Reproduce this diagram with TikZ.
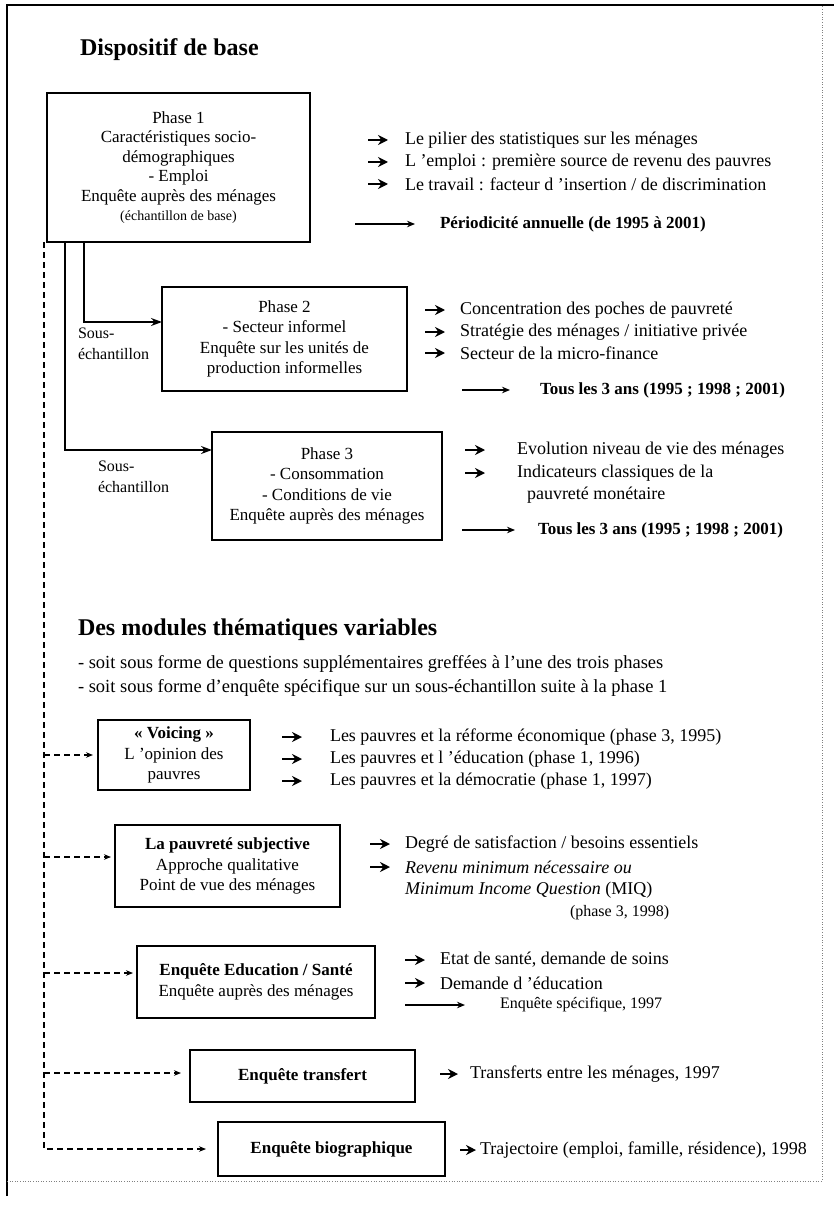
\documentclass[tikz,border=0pt]{standalone}
\usepackage{fontspec}
\setmainfont{Liberation Serif}
\usetikzlibrary{positioning,arrows.meta,calc}

\begin{document}
\begin{tikzpicture}[
  x=1pt, y=-1pt,
  every node/.style={inner sep=0pt, outer sep=0pt},
  phase/.style={draw, line width=1.1pt, align=center,
                font=\fontsize{17}{20.5}\selectfont},
  sectitle/.style={anchor=west, font=\fontsize{24}{28}\selectfont\bfseries},
  item/.style={anchor=west, font=\fontsize{18}{21.5}\selectfont},
  period/.style={anchor=west, font=\fontsize{17}{20}\selectfont\bfseries},
  subs/.style={anchor=north west, align=left, font=\fontsize{16}{21}\selectfont},
  bul/.style={-{Stealth[length=10pt,width=10pt]}, line width=2.2pt},
  longarr/.style={-{Stealth[length=8pt,width=6.5pt]}, line width=1.3pt},
  link/.style={-{Stealth[length=11pt,width=8pt]}, line width=1.4pt},
  dlink/.style={-{Stealth[length=7pt,width=5.5pt]}, line width=1.1pt,
                dash pattern=on 6pt off 4pt}
]
  \useasboundingbox (0,0) rectangle (834,1206);

  % page frame
  \draw[line width=1.3pt] (7,1196) -- (7,5) -- (834,5);
  \draw[gray, dotted, line width=0.6pt] (7,1181) -- (822,1181) -- (822,5);

  % Dispositif de base
  \node[sectitle] (base) at (80,50) {Dispositif de base};

  \node[phase, minimum width=263pt, minimum height=149pt,
        font=\fontsize{17}{19.5}\selectfont] (ph1) at (178.5,167.5)
    {Phase 1\\Caractéristiques socio-\\démographiques\\- Emploi\\Enquête auprès des ménages\\
     {\fontsize{14}{18}\selectfont (échantillon de base)}};
  \node[item] (p11) at (405,140) {Le pilier des statistiques sur les ménages};
  \node[item] (p12) at (405,162) {L ’emploi : première source de revenu des pauvres};
  \node[item] (p13) at (405,184) {Le travail : facteur d ’insertion / de discrimination};
  \node[period] (per1) at (440,224) {Périodicité annuelle (de 1995 à 2001)};
  \draw[bul] ([xshift=-37pt]p11.west) -- ([xshift=-17pt]p11.west);
  \draw[bul] ([xshift=-37pt]p12.west) -- ([xshift=-17pt]p12.west);
  \draw[bul] ([xshift=-37pt]p13.west) -- ([xshift=-17pt]p13.west);
  \draw[longarr] ([xshift=-85pt]per1.west) -- ([xshift=-25pt]per1.west);

  \node[phase, minimum width=245pt, minimum height=104pt] (ph2) at (284.5,339)
    {Phase 2\\- Secteur informel\\Enquête sur les unités de\\production informelles};
  \node[subs] (sub1) at (78,328) {Sous-\\échantillon};
  \node[item] (p21) at (460,310) {Concentration des poches de pauvreté};
  \node[item] (p22) at (460,332) {Stratégie des ménages / initiative privée};
  \node[item] (p23) at (460,353) {Secteur de la micro-finance};
  \node[period] (per2) at (540,390) {Tous les 3 ans (1995 ; 1998 ; 2001)};
  \draw[bul] ([xshift=-35pt]p21.west) -- ([xshift=-15pt]p21.west);
  \draw[bul] ([xshift=-35pt]p22.west) -- ([xshift=-15pt]p22.west);
  \draw[bul] ([xshift=-35pt]p23.west) -- ([xshift=-15pt]p23.west);
  \draw[longarr] ([xshift=-78pt]per2.west) -- ([xshift=-30pt]per2.west);

  \node[phase, minimum width=230pt, minimum height=108pt] (ph3) at (327,486)
    {Phase 3\\- Consommation\\- Conditions de vie\\Enquête auprès des ménages};
  \node[subs] (sub2) at (98,461) {Sous-\\échantillon};
  \node[item] (p31) at (517,450) {Evolution niveau de vie des ménages};
  \node[item] (p32) at (517,473) {Indicateurs classiques de la};
  \node[item] (p33) at (527,495) {pauvreté monétaire};
  \node[period] (per3) at (538,530) {Tous les 3 ans (1995 ; 1998 ; 2001)};
  \draw[bul] ([xshift=-52pt]p31.west) -- ([xshift=-32pt]p31.west);
  \draw[bul] ([xshift=-52pt]p32.west) -- ([xshift=-32pt]p32.west);
  \draw[longarr] ([xshift=-76pt]per3.west) -- ([xshift=-23pt]per3.west);

  % sub-samples
  \draw[link] ([xshift=37pt]ph1.south west) |- ($(ph2.north west)+(0,35)$);
  \draw[link] ([xshift=18pt]ph1.south west) |- ($(ph3.north west)+(0,18)$);

  % Des modules thematiques variables
  \node[sectitle] (mod) at (78,630) {Des modules thématiques variables};
  \node[anchor=west, font=\fontsize{18.5}{21}\selectfont] (soit1) at (78,664)
    {- soit sous forme de questions supplémentaires greffées à l’une des trois phases};
  \node[anchor=west, font=\fontsize{18.5}{21}\selectfont] (soit2) at (78,688)
    {- soit sous forme d’enquête spécifique sur un sous-échantillon suite à la phase 1};

  \node[phase, minimum width=152pt, minimum height=70pt] (voi) at (174,755)
    {{\bfseries « Voicing »}\\L ’opinion des\\pauvres};
  \node[item] (p41) at (330,737) {Les pauvres et la réforme économique (phase 3, 1995)};
  \node[item] (p42) at (330,759) {Les pauvres et l ’éducation (phase 1, 1996)};
  \node[item] (p43) at (330,781) {Les pauvres et la démocratie (phase 1, 1997)};
  \draw[bul] ([xshift=-48pt]p41.west) -- ([xshift=-28pt]p41.west);
  \draw[bul] ([xshift=-48pt]p42.west) -- ([xshift=-28pt]p42.west);
  \draw[bul] ([xshift=-48pt]p43.west) -- ([xshift=-28pt]p43.west);

  \node[phase, minimum width=225pt, minimum height=82pt] (subj) at (227.5,866)
    {{\bfseries La pauvreté subjective}\\Approche qualitative\\Point de vue des ménages};
  \node[item] (p51) at (405,844) {Degré de satisfaction / besoins essentiels};
  \node[item] (p52) at (405,867) {\itshape Revenu minimum nécessaire ou};
  \node[item] (p53) at (405,890) {\textit{Minimum Income Question} (MIQ)};
  \node[anchor=west, font=\fontsize{16}{19}\selectfont] (p54) at (570,913) {(phase 3, 1998)};
  \draw[bul] ([xshift=-35pt]p51.west) -- ([xshift=-15pt]p51.west);
  \draw[bul] ([xshift=-35pt]p52.west) -- ([xshift=-15pt]p52.west);

  \node[phase, minimum width=238pt, minimum height=72pt] (edu) at (256,982)
    {{\bfseries Enquête Education / Santé}\\Enquête auprès des ménages};
  \node[item] (p61) at (440,960) {Etat de santé, demande de soins};
  \node[item] (p62) at (440,983) {Demande d ’éducation};
  \node[anchor=west, font=\fontsize{16}{19}\selectfont] (per6) at (500,1005) {Enquête spécifique, 1997};
  \draw[bul] ([xshift=-35pt]p61.west) -- ([xshift=-15pt]p61.west);
  \draw[bul] ([xshift=-35pt]p62.west) -- ([xshift=-15pt]p62.west);
  \draw[longarr] ([xshift=-95pt]per6.west) -- ([xshift=-35pt]per6.west);

  \node[phase, minimum width=225pt, minimum height=52pt, font=\fontsize{17}{20}\selectfont\bfseries] (trans) at (302.5,1076)
    {Enquête transfert};
  \node[item] (p71) at (470,1074) {Transferts entre les ménages, 1997};
  \draw[bul] ([xshift=-30pt]p71.west) -- ([xshift=-12pt]p71.west);

  \node[phase, minimum width=227pt, minimum height=54pt, font=\fontsize{17}{20}\selectfont\bfseries] (bio) at (331.5,1149)
    {Enquête biographique};
  \node[item] (p81) at (480,1150) {Trajectoire (emploi, famille, résidence), 1998};
  \draw[bul] ([xshift=-20pt]p81.west) -- ([xshift=-4pt]p81.west);

  % dashed feed from phase 1
  \coordinate (dtop) at ([xshift=-3pt]ph1.south west);
  \coordinate (voiin) at ([xshift=-5pt]voi.west);
  \coordinate (subjin) at ([xshift=-4pt,yshift=9pt]subj.west);
  \coordinate (eduin) at ([xshift=-4pt,yshift=9pt]edu.west);
  \coordinate (transin) at ([xshift=-9pt,yshift=3pt]trans.west);
  \coordinate (bioin) at ([xshift=-12pt]bio.west);
  \draw[dlink] (dtop) |- (bioin);
  \draw[dlink] (dtop |- voiin) -- (voiin);
  \draw[dlink] (dtop |- subjin) -- (subjin);
  \draw[dlink] (dtop |- eduin) -- (eduin);
  \draw[dlink] (dtop |- transin) -- (transin);
\end{tikzpicture}
\end{document}
